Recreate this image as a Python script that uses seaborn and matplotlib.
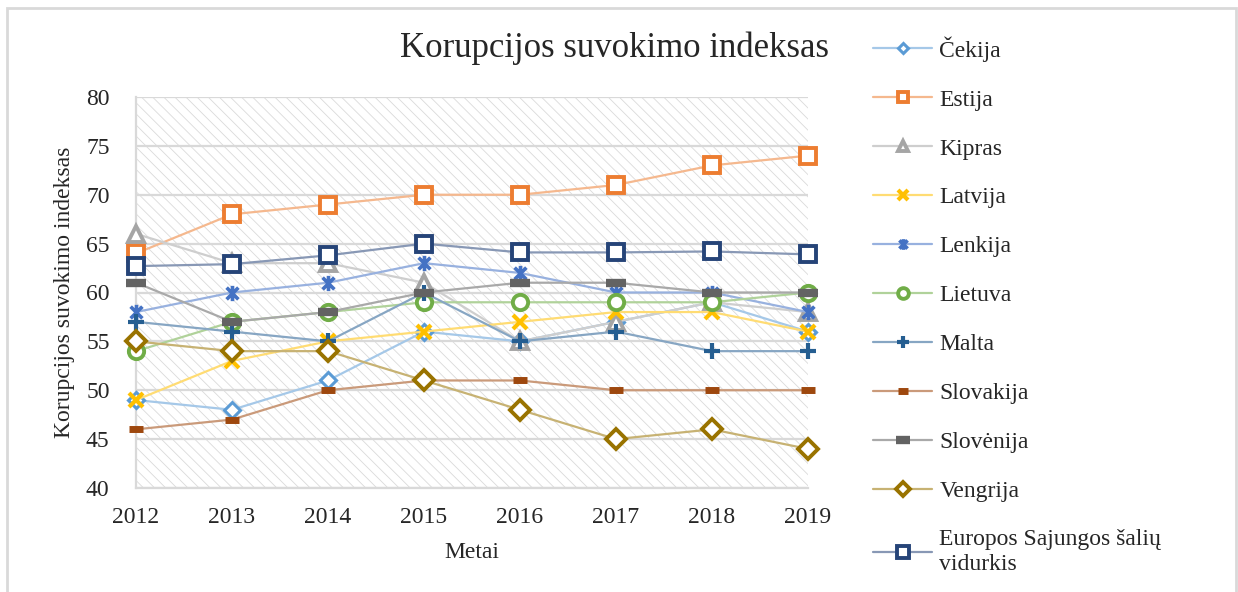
import matplotlib
matplotlib.use("Agg")
import matplotlib.pyplot as plt
import matplotlib.patches as mpatches
import matplotlib.colors as mcolors
from matplotlib.path import Path
import seaborn as sns

# Korupcijos suvokimo indeksas 2012-2019
metai = [2012, 2013, 2014, 2015, 2016, 2017, 2018, 2019]
cekija = [49, 48, 51, 56, 55, 57, 59, 56]
estija = [64, 68, 69, 70, 70, 71, 73, 74]
kipras = [66, 63, 63, 61, 55, 57, 59, 58]
latvija = [49, 53, 55, 56, 57, 58, 58, 56]
lenkija = [58, 60, 61, 63, 62, 60, 60, 58]
lietuva = [54, 57, 58, 59, 59, 59, 59, 60]
malta = [57, 56, 55, 60, 55, 56, 54, 54]
slovakija = [46, 47, 50, 51, 51, 50, 50, 50]
slovenija = [61, 57, 58, 60, 61, 61, 60, 60]
vengrija = [55, 54, 54, 51, 48, 45, 46, 44]
es_vidurkis = [62.7, 62.9, 63.8, 65.0, 64.1, 64.1, 64.2, 63.9]

serijos = [
    ("Čekija", cekija),
    ("Estija", estija),
    ("Kipras", kipras),
    ("Latvija", latvija),
    ("Lenkija", lenkija),
    ("Lietuva", lietuva),
    ("Malta", malta),
    ("Slovakija", slovakija),
    ("Slovėnija", slovenija),
    ("Vengrija", vengrija),
    ("Europos Sajungos šalių\nvidurkis", es_vidurkis),
]

# excel-like star: an x with a vertical stroke
zvaigzde = Path([(-1, -1), (1, 1), (-1, 1), (1, -1), (0, -1.3), (0, 1.3)],
                [Path.MOVETO, Path.LINETO] * 3)

# colour, marker, size, edge width, filled
stiliai = [
    ("#5B9BD5", "D", 8, 2.2, False),
    ("#ED7D31", "s", 11, 2.8, False),
    ("#A5A5A5", "^", 11, 2.8, False),
    ("#FFC000", "x", 10, 3.0, True),
    ("#4472C4", zvaigzde, 11, 2.6, True),
    ("#70AD47", "o", 11, 2.8, False),
    ("#255E91", "+", 12, 3.0, True),
    ("#9E480E", "_", 10, 5.0, True),
    ("#636363", "_", 15, 6.0, True),
    ("#997300", "D", 10, 2.8, False),
    ("#264478", "s", 12, 2.8, False),
]

sns.set_style("white")
plt.rcParams["font.family"] = ["Liberation Serif", "DejaVu Serif"]
plt.rcParams["hatch.linewidth"] = 0.6

fig = plt.figure(figsize=(12.38, 5.92), dpi=100)
W, H = 1238, 592
ax = fig.add_axes([136 / W, 1 - 488 / H, (808 - 136) / W, (488 - 97) / H])

# hatched plot area
ax.add_patch(mpatches.Rectangle((0, 0), 1, 1, transform=ax.transAxes,
                                facecolor="white", edgecolor="#dadada",
                                hatch="\\\\\\", lw=0, zorder=0))

for (nm, vals), (c, m, ms, mew, filled) in zip(serijos, stiliai):
    rgb = mcolors.to_rgb(c)
    line_c = tuple(0.55 * v + 0.45 for v in rgb)
    sns.lineplot(x=metai, y=vals, ax=ax, color=line_c, lw=1.6, label=nm,
                 marker=m, markersize=ms, markeredgewidth=mew,
                 markeredgecolor=c, markerfacecolor=c if filled else "white",
                 clip_on=False, zorder=3)

ax.set_xlim(2012, 2019)
ax.set_ylim(40, 80)
ax.set_xticks(metai)
ax.set_yticks(range(40, 81, 5))
ax.yaxis.grid(True, color="#d9d9d9", lw=1.6)
ax.set_axisbelow(True)
for s in ["top", "right"]:
    ax.spines[s].set_visible(False)
for s in ["left", "bottom"]:
    ax.spines[s].set_color("#d9d9d9")
    ax.spines[s].set_linewidth(1.6)
ax.tick_params(axis="y", length=0, pad=19, labelsize=17)
ax.tick_params(axis="x", length=0, pad=14, labelsize=17)
ax.set_xlabel("")
ax.set_ylabel("")

handles, labels = ax.get_legend_handles_labels()
ax.get_legend().remove()
fig.legend(handles, labels, loc="upper left",
           bbox_to_anchor=(852 / W, 1 - 15 / H), frameon=False,
           fontsize=17, handlelength=2.5, handletextpad=0.3,
           labelspacing=1.16, markerscale=0.7)

fig.text(615 / W, 1 - 48 / H, "Korupcijos suvokimo indeksas",
         ha="center", va="center", fontsize=25)
fig.text(472 / W, 1 - 552 / H, "Metai", ha="center", va="center",
         fontsize=17)
fig.text(65 / W, 1 - 292 / H, "Korupcijos suvokimo indeksas", ha="center",
         va="center", rotation=90, fontsize=17)

# outer chart border
fig.add_artist(mpatches.Rectangle((7 / W, -0.01), (1236 - 7) / W,
                                  1 - 8 / H + 0.01, transform=fig.transFigure,
                                  fill=False, edgecolor="#d9d9d9", lw=2))

fig.savefig("out.png", dpi=100)
